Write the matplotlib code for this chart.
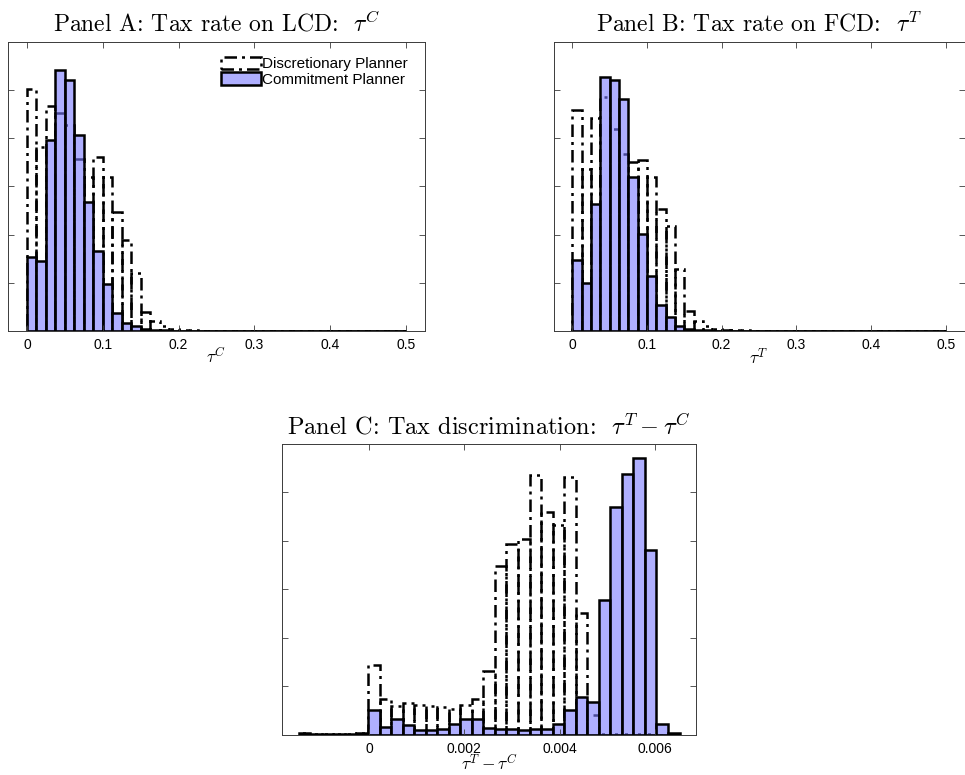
import numpy as np
import matplotlib
matplotlib.use("Agg")
import matplotlib.pyplot as plt

plt.rcParams["mathtext.fontset"] = "cm"
plt.rcParams["font.family"] = ["Liberation Sans", "DejaVu Sans"]

# Panel A / B: 40 bins of width 0.0125 over [0, 0.5]
tax_bin_width = 0.0125
tax_bin_left = np.arange(40) * tax_bin_width

lcd_commit = [1.54, 1.46, 3.96, 5.40, 5.20, 4.07, 2.67, 1.66, 0.97, 0.385,
              0.18, 0.10, 0.055, 0.03, 0.02, 0.015, 0.01, 0.01, 0.01, 0.01,
              0.01, 0.01, 0.01, 0.01, 0.01, 0.01, 0.01, 0.01, 0.01, 0.01,
              0.01, 0.01, 0.01, 0.01, 0.01, 0.01, 0.01, 0.01, 0.01, 0.01]
lcd_discr = [5.01, 3.82, 4.67, 4.53, 4.27, 3.57, 3.20, 3.60, 3.20, 2.47,
             1.90, 1.20, 0.40, 0.21, 0.10, 0.04, 0.03, 0.02, 0.015, 0.01,
             0.01, 0.01, 0.01, 0.01, 0.01, 0.01, 0.01, 0.01, 0.01, 0.01,
             0.01, 0.01, 0.01, 0.01, 0.01, 0.01, 0.01, 0.01, 0.01, 0.01]

fcd_commit = [1.47, 1.00, 2.63, 5.27, 5.20, 4.80, 3.19, 2.01, 1.14, 0.54,
              0.29, 0.11, 0.055, 0.03, 0.02, 0.015, 0.02, 0.01, 0.01, 0.01,
              0.01, 0.01, 0.01, 0.01, 0.01, 0.01, 0.01, 0.01, 0.01, 0.01,
              0.01, 0.01, 0.01, 0.01, 0.01, 0.01, 0.01, 0.01, 0.01, 0.01]
fcd_discr = [4.58, 3.36, 4.41, 4.86, 4.19, 3.68, 3.50, 3.55, 3.20, 2.54,
             2.19, 1.30, 0.43, 0.21, 0.11, 0.055, 0.03, 0.02, 0.03, 0.01,
             0.01, 0.01, 0.01, 0.01, 0.01, 0.01, 0.01, 0.01, 0.01, 0.01,
             0.01, 0.01, 0.01, 0.01, 0.01, 0.01, 0.01, 0.01, 0.01, 0.01]

# Panel C: bins k = -6 .. 26
disc_bin_width = 0.000242
disc_bin_left = -0.00002 + np.arange(-6, 27) * disc_bin_width

gap_commit = [0.03, 0.015, 0.01, 0.01, 0.015, 0.04,
              0.52, 0.15, 0.32, 0.19, 0.10, 0.09, 0.12, 0.22, 0.33, 0.33,
              0.13, 0.11, 0.12, 0.09, 0.12, 0.12, 0.22, 0.52, 0.77, 0.68,
              2.77, 4.70, 5.39, 5.71, 3.82, 0.23, 0.04]
gap_discr = [0.03, 0.015, 0.01, 0.01, 0.015, 0.04,
             1.44, 0.73, 0.59, 0.65, 0.61, 0.59, 0.58, 0.54, 0.61, 0.74,
             1.32, 3.48, 3.93, 4.04, 5.37, 4.59, 4.33, 5.31, 2.52, 0.40,
             0.02, 0.01, 0.01, 0.01, 0.01, 0.0, 0.0]

BLUE = (123 / 255, 123 / 255, 1.0, 0.6)
AXCOL = "#3a3a3a"
DASHDOT = (0, (5.0, 2.0, 1.2, 2.0))

W, H = 965, 775
fig = plt.figure(figsize=(W / 100, H / 100), dpi=100)


def px_axes(left, top, right, bottom):
    return fig.add_axes([left / W, 1 - bottom / H, (right - left) / W, (bottom - top) / H])


def draw_panel(ax, left_edges, width, commit, discr, xlim, xticks, xticklabels,
               title, xlabel, labelpad=-4, title_size=17):
    hd = ax.bar(left_edges, discr, width=width, align="edge", fill=False,
                edgecolor="black", linewidth=1.8, linestyle=DASHDOT,
                label="Discretionary Planner")
    hc = ax.bar(left_edges, commit, width=width, align="edge", facecolor=BLUE,
                edgecolor="black", linewidth=1.8, label="Commitment Planner")
    ax.set_xlim(*xlim)
    ax.set_ylim(0, 6)
    ax.set_xticks(xticks)
    ax.set_xticklabels(xticklabels)
    ax.set_yticks([1, 2, 3, 4, 5])
    ax.set_yticklabels([])
    ax.tick_params(direction="in", length=4, width=0.6, color=AXCOL,
                   top=True, right=True, labelsize=10, pad=5)
    for s in ax.spines.values():
        s.set_color(AXCOL)
        s.set_linewidth(0.7)
    ax.set_title(title, fontsize=title_size, pad=7, family="cmr10")
    ax.set_xlabel(xlabel, fontsize=12.5, labelpad=labelpad)
    return hd, hc


axA = px_axes(8, 41.5, 425, 331.3)
hd, hc = draw_panel(axA, tax_bin_left, tax_bin_width, lcd_commit, lcd_discr,
                    (-0.025, 0.525), [0, 0.1, 0.2, 0.3, 0.4, 0.5],
                    ["0", "0.1", "0.2", "0.3", "0.4", "0.5"],
                    r"Panel A: Tax rate on LCD:  $\tau^C$", r"$\tau^C$")
axA.legend(handles=[hd, hc], loc="upper right", frameon=False, fontsize=11,
           handlelength=2.6, handleheight=0.85, handletextpad=0.1,
           labelspacing=0.1, borderaxespad=0.3, bbox_to_anchor=(0.985, 0.985))

axB = px_axes(553.5, 41.5, 964.5, 331.3)
draw_panel(axB, tax_bin_left, tax_bin_width, fcd_commit, fcd_discr,
           (-0.025, 0.525), [0, 0.1, 0.2, 0.3, 0.4, 0.5],
           ["0", "0.1", "0.2", "0.3", "0.4", "0.5"],
           r"Panel B: Tax rate on FCD:  $\tau^T$", r"$\tau^T$")

axC = px_axes(281.7, 444, 696, 734.7)
draw_panel(axC, disc_bin_left, disc_bin_width, gap_commit, gap_discr,
           (-0.00183, 0.00686), [0, 0.002, 0.004, 0.006],
           ["0", "0.002", "0.004", "0.006"],
           r"Panel C: Tax discrimination:  $\tau^T - \tau^C$",
           r"$\tau^T - \tau^C$", labelpad=-1.5, title_size=17.5)

fig.savefig("out.png", dpi=100)
